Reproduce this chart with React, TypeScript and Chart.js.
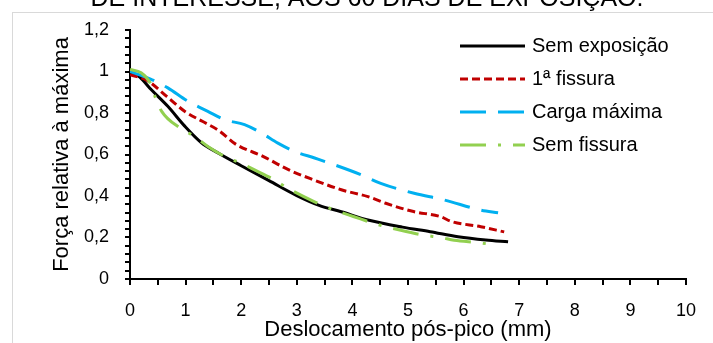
import React, { useEffect, useRef } from "react";
import { Chart, registerables } from "chart.js";

Chart.register(...registerables);

const FONT = "'Liberation Sans', Arial, sans-serif";

const chartTitle = "DE INTERESSE, AOS 60 DIAS DE EXPOSIÇÃO.";
const xTitle = "Deslocamento pós-pico (mm)";
const yTitle = "Força relativa à máxima";

const seriesLabels = ["Sem exposição", "1ª fissura", "Carga máxima", "Sem fissura"];

const xTickLabels = ["0", "1", "2", "3", "4", "5", "6", "7", "8", "9", "10"];
const yTickLabels = ["0", "0,2", "0,4", "0,6", "0,8", "1", "1,2"];

const semExposicaoX = [0, 0.18, 0.38, 0.68, 0.98, 1.28, 1.6, 2.0, 2.5, 3.0, 3.4, 3.8, 4.3, 4.9, 5.4, 5.9, 6.4, 6.8];
const semExposicaoY = [1.0, 0.972, 0.913, 0.832, 0.738, 0.658, 0.605, 0.546, 0.474, 0.402, 0.355, 0.324, 0.283, 0.25, 0.228, 0.204, 0.188, 0.179];

const primeiraFissuraX = [0, 0.3, 0.66, 1.0, 1.3, 1.6, 1.9, 2.4, 2.84, 3.3, 3.8, 4.28, 4.6, 5.1, 5.59, 5.77, 6.31, 6.73];
const primeiraFissuraY = [0.985, 0.958, 0.88, 0.805, 0.76, 0.715, 0.65, 0.59, 0.528, 0.478, 0.43, 0.397, 0.365, 0.325, 0.3, 0.278, 0.252, 0.227];

const cargaMaximaX = [0, 0.36, 0.68, 1.04, 1.4, 1.7, 2.06, 2.36, 2.66, 2.96, 3.32, 3.68, 4.16, 4.51, 5.11, 5.65, 6.31, 6.62];
const cargaMaximaY = [1.0, 0.965, 0.921, 0.857, 0.808, 0.768, 0.744, 0.704, 0.655, 0.615, 0.583, 0.55, 0.502, 0.461, 0.413, 0.381, 0.332, 0.319];

const semFissuraX = [0, 0.2, 0.36, 0.46, 0.57, 0.9, 1.16, 1.4, 1.76, 2.0, 2.24, 2.6, 2.84, 3.32, 3.68, 4.03, 4.39, 4.87, 5.29, 5.59, 5.83, 6.31, 6.56];
const semFissuraY = [1.01, 0.994, 0.946, 0.873, 0.808, 0.728, 0.687, 0.639, 0.583, 0.558, 0.526, 0.477, 0.437, 0.372, 0.332, 0.3, 0.268, 0.235, 0.211, 0.2, 0.187, 0.174, 0.163];

const toPoints = (xs: number[], ys: number[]) => xs.map((x, i) => ({ x, y: ys[i] }));

const framePlugin = {
  id: "frameAndTitle",
  beforeDraw(chart: any) {
    const ctx = chart.ctx;
    ctx.save();
    ctx.fillStyle = "#ffffff";
    ctx.fillRect(0, 0, chart.width, chart.height);
    ctx.strokeStyle = "#d9d9d9";
    ctx.lineWidth = 1;
    ctx.strokeRect(12.5, 12.5, chart.width + 50, chart.height + 50);
    ctx.fillStyle = "#000";
    ctx.font = `25px ${FONT}`;
    ctx.textAlign = "center";
    ctx.textBaseline = "alphabetic";
    ctx.fillText(chartTitle, 367, 5.5);
    ctx.restore();
  },
};

const legendPlugin = {
  id: "insideLegend",
  afterDatasetsDraw(chart: any) {
    const ctx = chart.ctx;
    const area = chart.chartArea;
    const x0 = area.left + 330;
    const y0 = area.top + 16;
    ctx.save();
    chart.data.datasets.forEach((ds: any, i: number) => {
      const y = y0 + i * 33;
      ctx.beginPath();
      ctx.strokeStyle = ds.borderColor;
      ctx.lineWidth = 3;
      ctx.lineCap = "butt";
      ctx.setLineDash(ds.borderDash || []);
      ctx.moveTo(x0, y);
      ctx.lineTo(x0 + 65, y);
      ctx.stroke();
      ctx.setLineDash([]);
      ctx.fillStyle = "#000";
      ctx.font = `20px ${FONT}`;
      ctx.textAlign = "left";
      ctx.textBaseline = "middle";
      ctx.fillText(ds.label, x0 + 72, y);
    });
    ctx.restore();
  },
};

export default function App() {
  const ref = useRef<HTMLCanvasElement | null>(null);

  useEffect(() => {
    if (!ref.current) return;
    const chart = new Chart(ref.current, {
      type: "line",
      data: {
        datasets: [
          {
            label: seriesLabels[0],
            data: toPoints(semExposicaoX, semExposicaoY),
            borderColor: "#000000",
            borderDash: [],
            order: 3,
          },
          {
            label: seriesLabels[1],
            data: toPoints(primeiraFissuraX, primeiraFissuraY),
            borderColor: "#C00000",
            borderDash: [8, 4],
            order: 2,
          },
          {
            label: seriesLabels[2],
            data: toPoints(cargaMaximaX, cargaMaximaY),
            borderColor: "#00B0F0",
            borderDash: [26, 12],
            order: 1,
          },
          {
            label: seriesLabels[3],
            data: toPoints(semFissuraX, semFissuraY),
            borderColor: "#92D050",
            borderDash: [26, 12, 3, 12],
            order: 0,
          },
        ],
      },
      options: {
        animation: false,
        responsive: false,
        layout: { padding: { top: 30, right: 27, bottom: 0, left: 0 } },
        elements: {
          point: { radius: 0, hoverRadius: 0 },
          line: { borderWidth: 3, cubicInterpolationMode: "monotone", borderCapStyle: "butt", fill: false },
        },
        plugins: {
          legend: { display: false },
          tooltip: { enabled: false },
          title: { display: false },
        },
        scales: {
          x: {
            type: "linear",
            min: 0,
            max: 10,
            ticks: {
              stepSize: 0.5,
              autoSkip: false,
              maxRotation: 0,
              padding: 15,
              color: "#000",
              font: { family: FONT, size: 18 },
              callback: (v: any) => {
                const n = Number(v);
                const r = Math.round(n);
                return Math.abs(n - r) < 1e-6 ? xTickLabels[r] : "";
              },
            },
            grid: {
              drawOnChartArea: false,
              drawTicks: true,
              tickLength: 6,
              tickWidth: 2,
              lineWidth: 2,
              tickColor: "#000",
              color: "#000",
            },
            border: { display: true, color: "#000", width: 2 },
            title: {
              display: true,
              text: xTitle,
              color: "#000",
              font: { family: FONT, size: 22 },
              padding: { top: 0, bottom: 0 },
            },
            afterFit: (s: any) => {
              s.height = 64;
            },
          },
          y: {
            type: "linear",
            min: 0,
            max: 1.2,
            ticks: {
              stepSize: 0.04,
              autoSkip: false,
              padding: 16,
              color: "#000",
              font: { family: FONT, size: 18 },
              callback: (v: any) => {
                const n = Number(v);
                const idx = Math.round(n / 0.2);
                return Math.abs(n - idx * 0.2) < 1e-6 ? yTickLabels[idx] : "";
              },
            },
            grid: {
              drawOnChartArea: false,
              drawTicks: true,
              tickLength: 5,
              tickWidth: 2,
              lineWidth: 2,
              tickColor: "#000",
              color: "#000",
            },
            border: { display: true, color: "#000", width: 2 },
            title: {
              display: true,
              text: yTitle,
              color: "#000",
              font: { family: FONT, size: 22 },
              padding: { top: 49, bottom: 0 },
            },
            afterFit: (s: any) => {
              s.width = 130;
            },
          },
        },
      },
      plugins: [framePlugin, legendPlugin],
    });
    return () => chart.destroy();
  }, []);

  return (
    <div style={{ position: "fixed", left: 0, top: 0, width: 713, height: 343, overflow: "hidden" }}>
      <canvas ref={ref} width={713} height={343} style={{ display: "block", width: 713, height: 343 }} />
    </div>
  );
}
